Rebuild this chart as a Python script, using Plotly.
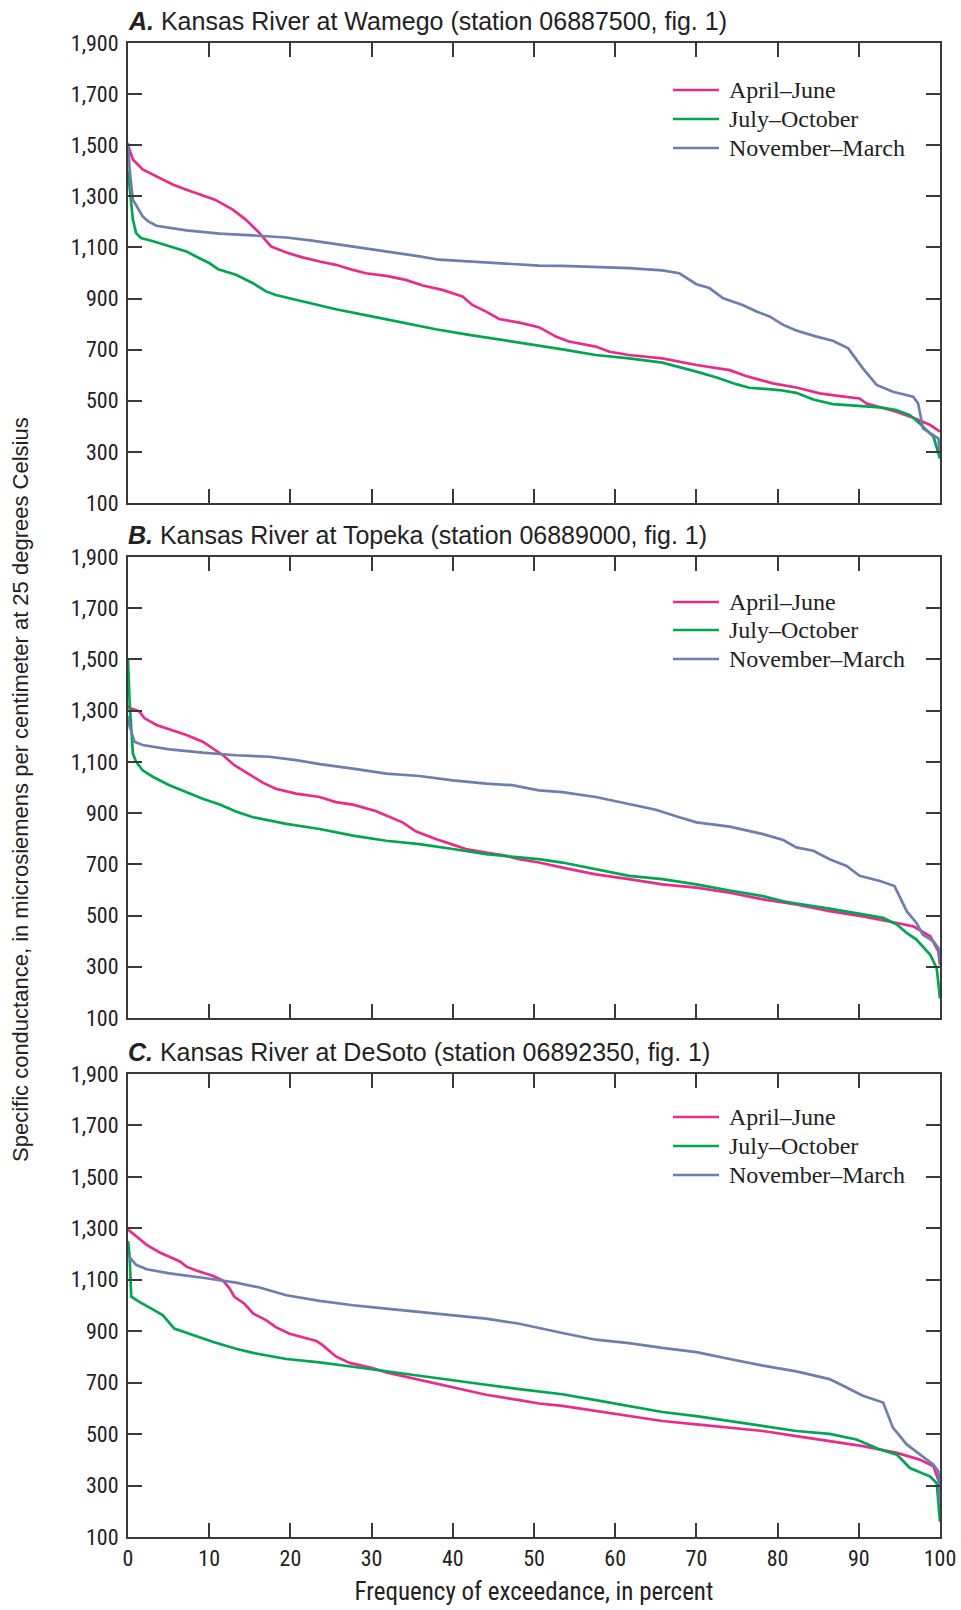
import plotly.graph_objects as go

# ---------------- Data (frequency of exceedance, percent ; specific conductance) ----------------
# Panel A: Kansas River at Wamego
a_apr_x = [0, 0.6, 1.8, 3.9, 5.5, 7.2, 8.8, 10.7, 12.9, 14.5, 16.2, 17.6, 19.5, 21.5, 23.6, 25.6, 27.7, 29.3,
           31.8, 34.2, 36.3, 38.7, 41.2, 42.4, 44.1, 45.7, 48.2, 50.6, 52.7, 54.3, 57.6, 59.3, 61.7, 65.8, 70,
           74.1, 76.1, 79.4, 82.3, 85.2, 87.2, 90.1, 90.9, 92.6, 94.6, 96.7, 98.8, 100]
a_apr_y = [1500, 1444, 1405, 1372, 1346, 1326, 1307, 1287, 1248, 1209, 1156, 1104, 1080, 1061, 1045, 1032, 1012, 999,
           989, 973, 951, 934, 908, 875, 849, 820, 806, 788, 751, 732, 712, 692, 679, 666, 640,
           620, 597, 568, 552, 529, 520, 509, 490, 474, 457, 434, 405, 379]
a_jul_x = [0, 0.2, 0.6, 1, 1.6, 3.1, 5.1, 7.2, 8.8, 10, 11.1, 13.3, 15.4, 17, 18.2, 21.5, 25.6, 29.7, 33.8, 37.9,
           42, 46.1, 50.6, 51.4, 53.5, 57.6, 61.7, 65.8, 67.9, 70, 72.4, 74.9, 76.5, 80.2, 82.3, 84.4, 86.8, 90.5,
           92.6, 94.6, 96.3, 97.5, 99.2, 100]
a_jul_y = [1400, 1339, 1209, 1156, 1137, 1124, 1104, 1084, 1058, 1039, 1015, 993, 960, 928, 914, 888, 858, 832, 806, 780,
           758, 738, 718, 712, 701, 679, 666, 649, 633, 614, 592, 565, 551, 542, 531, 505, 487, 479,
           474, 464, 444, 411, 359, 274]
a_nov_x = [0, 0.2, 0.6, 1.2, 1.8, 2.5, 3.5, 7.2, 11.3, 15.4, 19.5, 22.7, 25.6, 28.9, 32.6, 35.9, 38.3, 42, 46.1, 50.6,
           53.5, 57.6, 61.7, 65.8, 67.9, 70, 71.6, 73.3, 75.7, 77.4, 79, 80.7, 82.3, 84.8, 86.8, 88.7, 90.5, 92.2,
           94.2, 96.7, 97.3, 97.9, 98.8, 99.8, 100]
a_nov_y = [1509, 1405, 1287, 1254, 1222, 1202, 1185, 1167, 1154, 1147, 1139, 1127, 1114, 1097, 1080, 1065, 1052, 1045, 1039, 1029,
           1028, 1023, 1019, 1010, 999, 956, 941, 901, 875, 849, 830, 797, 775, 751, 735, 705, 627, 562,
           535, 516, 490, 392, 372, 352, 294]

# Panel B: Kansas River at Topeka
b_apr_x = [0, 0.2, 1.4, 2, 3.5, 5.1, 7.2, 9.2, 10.5, 11.7, 13.1, 14.5, 15.8, 16.6, 18.2, 20.7, 23.6, 25.6, 27.7, 30.5,
           31.8, 33.8, 35.5, 37.9, 40, 41.6, 44.1, 46.1, 48.2, 50.6, 53.5, 57.6, 61.7, 65.8, 70, 74.1, 78.2, 82.3,
           86.4, 90.5, 94.7, 96.7, 98.8, 99.8, 100]
b_apr_y = [1320, 1310, 1297, 1271, 1244, 1227, 1205, 1179, 1153, 1126, 1087, 1061, 1035, 1019, 995, 976, 963, 943, 933, 908,
           891, 864, 828, 799, 777, 760, 746, 736, 720, 707, 687, 661, 642, 622, 609, 589, 563, 543,
           517, 497, 471, 458, 419, 360, 307]
b_jul_x = [0, 0.2, 0.6, 1, 1.8, 3.1, 5.1, 7.2, 9.2, 11.3, 13.3, 15.4, 19.5, 23.6, 27.7, 31.8, 35.9, 40, 44.1, 48.2,
           50.6, 53.5, 57.6, 61.7, 65.8, 70, 74.1, 78.2, 80.7, 82.3, 86.4, 90.5, 93, 94.7, 95.9, 97.1, 98.8, 99.6, 100]
b_jul_y = [1500, 1330, 1133, 1100, 1067, 1041, 1009, 982, 956, 934, 906, 884, 858, 838, 812, 792, 779, 760, 740, 727,
           720, 707, 681, 655, 642, 622, 598, 576, 556, 547, 527, 504, 491, 465, 432, 406, 347, 294, 176]
b_nov_x = [0, 0.2, 0.8, 1.8, 5.1, 9.2, 13.3, 17.4, 20.7, 23.6, 27.7, 31.8, 35.9, 40, 44.1, 47.3, 50.6, 53.5, 57.6, 61.7,
           65, 67.9, 70, 74.1, 78.2, 80.7, 82.3, 84.4, 86.4, 88.5, 90.1, 92.6, 94.4, 95.9, 97.1, 97.9, 99.2, 99.8, 100]
b_nov_y = [1280, 1238, 1179, 1166, 1149, 1136, 1126, 1120, 1107, 1091, 1074, 1054, 1045, 1028, 1015, 1009, 989, 982, 963, 936,
           913, 884, 864, 847, 818, 795, 766, 753, 720, 694, 655, 635, 615, 517, 471, 425, 399, 373, 320]

# Panel C: Kansas River at DeSoto
c_apr_x = [0, 1, 2.3, 3.9, 6.4, 7.2, 8.4, 10.5, 11.7, 12.5, 13.1, 14.3, 15.4, 17, 18.2, 19.9, 21.5, 23.2, 24, 25.6,
           27.3, 28.9, 30.1, 31.8, 35.9, 40, 44.1, 48.2, 50.6, 53.5, 57.6, 61.7, 65.8, 70, 74.1, 78.2, 82.3, 86.4,
           90.5, 94.7, 97.5, 99.2, 100]
c_apr_y = [1295, 1269, 1236, 1206, 1171, 1151, 1136, 1115, 1097, 1067, 1034, 1008, 969, 943, 916, 890, 877, 862, 845, 802,
           777, 766, 757, 740, 710, 681, 653, 632, 619, 610, 590, 570, 551, 538, 525, 512, 492, 473,
           453, 427, 401, 375, 303]
c_jul_x = [0, 0.2, 0.4, 1.4, 3.1, 4.3, 5.7, 7.2, 10.5, 13.3, 15.4, 19.5, 23.6, 27.7, 31.8, 35.9, 40, 44.1, 48.2, 50.6,
           53.5, 57.6, 61.7, 65.8, 70, 74.1, 78.2, 82.3, 86.4, 89.7, 92.6, 94.7, 96.3, 98.8, 99.6, 100]
c_jul_y = [1250, 1190, 1034, 1014, 984, 962, 910, 893, 858, 832, 816, 792, 779, 762, 744, 727, 710, 692, 675, 666,
           655, 632, 610, 586, 570, 551, 531, 512, 501, 479, 440, 420, 368, 335, 309, 159]
c_nov_x = [0, 1, 2.3, 5.1, 9.2, 13.3, 16.2, 19.5, 23.6, 27.7, 31.8, 35.9, 40, 44.1, 48.2, 50.6, 53.5, 57.6, 61.7, 65.8,
           70, 74.1, 78.2, 82.3, 86.4, 88.5, 90.5, 93, 93.6, 94.2, 95.9, 97.9, 99.2, 99.8, 100]
c_nov_y = [1195, 1158, 1141, 1125, 1108, 1089, 1070, 1040, 1018, 1001, 988, 975, 962, 949, 929, 914, 893, 867, 854, 835,
           819, 792, 766, 744, 714, 681, 649, 623, 577, 525, 460, 414, 381, 355, 225]

series_names = ["April–June", "July–October", "November–March"]
panel_titles = ["<b><i>A.</i></b> Kansas River at Wamego (station 06887500, fig. 1)",
                "<b><i>B.</i></b> Kansas River at Topeka (station 06889000, fig. 1)",
                "<b><i>C.</i></b> Kansas River at DeSoto (station 06892350, fig. 1)"]
x_ticks = [0, 10, 20, 30, 40, 50, 60, 70, 80, 90, 100]
y_ticks = [100, 300, 500, 700, 900, 1100, 1300, 1500, 1700, 1900]
y_ticklabels = ["100", "300", "500", "700", "900", "1,100", "1,300", "1,500", "1,700", "1,900"]

# ---------------- Figure ----------------
W, H = 961, 1610
colors = ["#EA2B8B", "#00A651", "#6E7EAF"]
panels = [
    [(a_apr_x, a_apr_y), (a_jul_x, a_jul_y), (a_nov_x, a_nov_y)],
    [(b_apr_x, b_apr_y), (b_jul_x, b_jul_y), (b_nov_x, b_nov_y)],
    [(c_apr_x, c_apr_y), (c_jul_x, c_jul_y), (c_nov_x, c_nov_y)],
]
# pixel boxes (top, bottom) of each plot area
boxes = [(43, 503), (557, 1018), (1074, 1537)]
legend_rows = [(90, 119, 148), (602, 630, 659), (1117, 1146, 1175)]
x_left, x_right = 128, 940

AX_COL = "#3a3a3a"
NARROW = "Liberation Sans Narrow, Roboto Condensed, Arial Narrow, sans-serif"
TICK_FONT = dict(family=NARROW, size=22, color="#222")
fig = go.Figure()
for p, series in enumerate(panels):
    sfx = "" if p == 0 else str(p + 1)
    for s, (xs, ys) in enumerate(series):
        fig.add_trace(go.Scatter(x=xs, y=ys, mode="lines", name=series_names[s],
                                 line=dict(color=colors[s], width=2.7),
                                 xaxis="x" + sfx, yaxis="y" + sfx, showlegend=False))
    top, bot = boxes[p]
    fig.layout["xaxis" + sfx] = dict(
        domain=[x_left / W, x_right / W], range=[0, 100], anchor="y" + sfx, automargin=False,
        tickvals=x_ticks, ticktext=[str(v) for v in x_ticks],
        showticklabels=(p == 2), ticks="inside", ticklen=14, tickwidth=1.5, tickcolor=AX_COL,
        showline=True, linecolor=AX_COL, linewidth=2, mirror="ticks",
        showgrid=False, zeroline=False, tickfont=TICK_FONT, ticklabelstandoff=1,
        title=dict(text="Frequency of exceedance, in percent" if p == 2 else "",
                   font=dict(family=NARROW, size=25, color="#222"), standoff=12),
    )
    fig.layout["yaxis" + sfx] = dict(
        domain=[1 - bot / H, 1 - top / H], range=[100, 1900], anchor="x" + sfx, automargin=False,
        tickvals=y_ticks, ticktext=y_ticklabels,
        ticks="inside", ticklen=14, tickwidth=1.5, tickcolor=AX_COL,
        showline=True, linecolor=AX_COL, linewidth=2, mirror="ticks",
        showgrid=False, zeroline=False, tickfont=TICK_FONT, ticklabelstandoff=3,
    )
    # legend (drawn per panel)
    for s in range(3):
        yy = 1 - legend_rows[p][s] / H
        fig.add_shape(type="line", xref="paper", yref="paper",
                      x0=673 / W, x1=719 / W, y0=yy, y1=yy,
                      line=dict(color=colors[s], width=2.7))
        fig.add_annotation(text=series_names[s], xref="paper", yref="paper",
                           x=727 / W, y=yy, xanchor="left", yanchor="middle", showarrow=False,
                           font=dict(family="Liberation Serif, Times New Roman, serif", size=24, color="#222"))
    fig.add_annotation(text=panel_titles[p], xref="paper", yref="paper",
                       x=(x_left - 2) / W, y=1 - (top - 22) / H, xanchor="left", yanchor="middle",
                       showarrow=False,
                       font=dict(family="Liberation Sans, Arial, sans-serif", size=25, color="#222"))

fig.add_annotation(text="Specific conductance, in microsiemens per centimeter at 25 degrees Celsius",
                   xref="paper", yref="paper", x=21 / W, y=1 - 790 / H, textangle=-90,
                   xanchor="center", yanchor="middle", showarrow=False,
                   font=dict(family="Liberation Sans, Arial, sans-serif", size=22, color="#222"))

fig.update_layout(width=W, height=H, autosize=False, margin=dict(l=0, r=0, t=0, b=0, autoexpand=False),
                  paper_bgcolor="white", plot_bgcolor="white", showlegend=False)

fig.write_html("out.html")
